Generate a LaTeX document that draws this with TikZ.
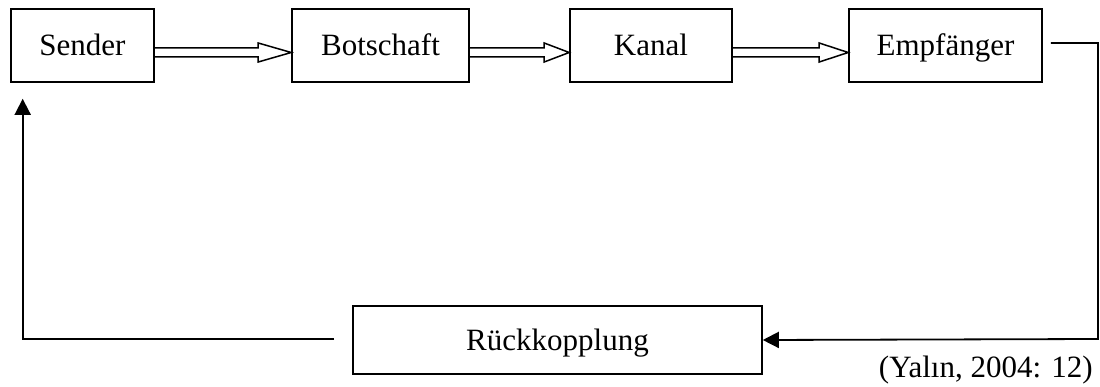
\documentclass[tikz,border=0pt]{standalone}
\usepackage{fontspec}
\setmainfont{Liberation Serif}
\usetikzlibrary{arrows.meta,calc}

\tikzset{
  stage/.style={draw, line width=1.6pt, inner sep=0pt, minimum height=73pt,
    text height=25pt, text depth=5pt,
    font=\fontsize{31}{36}\selectfont},
  shaft/.style={line width=1.5pt, line join=miter},
  feedback/.style={line width=1.8pt, -{Triangle[length=16pt,width=16pt]}},
}

% hollow double-line arrow between two stages: from, to, head length
\newcommand\hollowarrow[3]{%
  \draw[shaft] ($(#1.east)+(0,2.5)$) -- ($(#2.west)+(-#3,2.5)$)
    -- ($(#2.west)+(-#3,-2.5)$) -- ($(#2.west)+(0,7)$)
    -- ($(#2.west)+(-#3,16.5)$) -- ($(#2.west)+(-#3,11.5)$)
    -- ($(#1.east)+(0,11.5)$);}

\begin{document}
\begin{tikzpicture}[x=1pt,y=-1pt]
  \useasboundingbox (0,0) rectangle (1100,387);

  \node[stage, minimum width=143pt] (sender) at (82.5,45.5) {Sender};
  \node[stage, minimum width=177pt] (botschaft) at (380.5,45.5) {Botschaft};
  \node[stage, minimum width=162pt] (kanal) at (651,45.5) {Kanal};
  \node[stage, minimum width=193pt] (empf) at (945.5,45.5) {Empfänger};
  \node[stage, minimum width=409pt, minimum height=68pt] (rueck) at (557.5,340) {Rückkopplung};

  \hollowarrow{sender}{botschaft}{33}
  \hollowarrow{botschaft}{kanal}{25}
  \hollowarrow{kanal}{empf}{29}

  \coordinate (rc) at (1098,339);
  \draw[feedback] ($(empf.east)+(8,-2.5)$) -| (rc) -- (rueck.east);
  \draw[feedback] ($(rueck.west)+(-18,-1)$) -| ($(sender.south west)+(12.5,16)$);

  \node[anchor=base east, inner sep=0pt, font=\fontsize{31}{36}\selectfont]
    (source) at (1093,377) {(Yalın, 2004: 12)};
\end{tikzpicture}
\end{document}
